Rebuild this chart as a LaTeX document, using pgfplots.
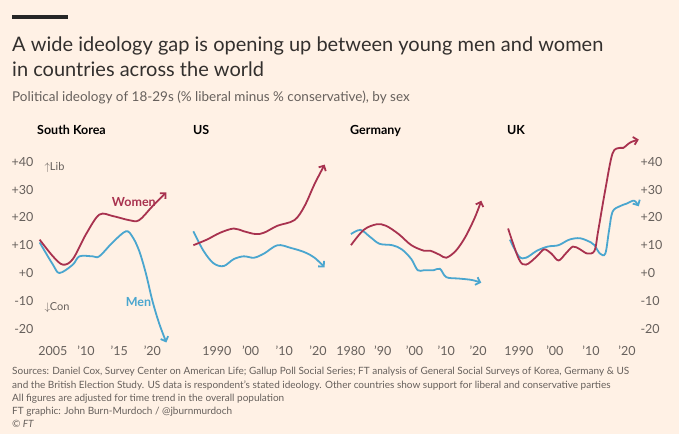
\documentclass[border=0pt]{standalone}
\usepackage{pgfplots}
\pgfplotsset{compat=1.18}
\usepgfplotslibrary{fillbetween}
\usetikzlibrary{arrows.meta}
\usepackage{fontspec}
\setmainfont{Lato}
\definecolor{bg}{HTML}{FFF1E5}
\definecolor{wom}{HTML}{A8324F}
\definecolor{men}{HTML}{4AA6CF}
\definecolor{pinkf}{HTML}{F7BBC9}
\definecolor{gridc}{HTML}{E6D9CE}
\definecolor{zeroc}{HTML}{A09890}
\definecolor{tickc}{HTML}{66605C}
\definecolor{titc}{HTML}{33302E}
\pgfplotsset{panel/.style={scale only axis, height=208.5pt, ymin=-25, ymax=50,
  axis line style={draw=none}, ytick={-20,-10,0,10,20,30,40}, yticklabels={},
  ymajorgrids, grid style={draw=gridc, line width=0.7pt},
  major y tick style={draw=none}, xtick pos=bottom, tick align=inside,
  major x tick style={draw=tickc, line width=0.8pt}, major tick length=4pt,
  ticklabel style={font=\fontsize{12.5}{12.5}\selectfont, text=tickc},
  clip=false, extra y ticks={0}, extra y tick labels={},
  extra y tick style={grid style={draw=zeroc,line width=1.3pt}, major tick style={draw=none}},
  anchor=south west},
  wl/.style={wom, line width=1.8pt, smooth, tension=0.55, -{Straight Barb[length=4pt,width=8pt]}},
  ml/.style={men, line width=1.8pt, smooth, tension=0.55, -{Straight Barb[length=4pt,width=8pt]}},
  hid/.style={draw=none, smooth, tension=0.55},
  ylabs/.style={yticklabels={-20,-10,+0,+10,+20,+30,+40}}}
\begin{document}
\begin{tikzpicture}
\fill[bg] (0,0) rectangle (679pt,434pt);
\fill[black!85] (12pt,419pt) rectangle (68pt,415pt);
\node[anchor=base west,inner sep=0,text=titc,font=\fontsize{20}{20}\selectfont] at (12pt,382pt) {A wide ideology gap is opening up between young men and women};
\node[anchor=base west,inner sep=0,text=titc,font=\fontsize{20}{20}\selectfont] at (12pt,357pt) {in countries across the world};
\node[anchor=base west,inner sep=0,text=tickc,font=\fontsize{13.5}{13.5}\selectfont] at (12pt,332pt) {Political ideology of 18-29s (\% liberal minus \% conservative), by sex};
\foreach \x/\t in {37/South Korea,193/US,350/Germany,507/UK}
  \node[anchor=base west,inner sep=0,text=black,font=\fontsize{12.5}{12.5}\selectfont\bfseries] at (\x pt,299pt) {\t};
\begin{scope}[every node/.style={anchor=base west,inner sep=0,text=tickc,font=\fontsize{10}{10}\selectfont}]
\node at (12pt,60pt) {Sources: Daniel Cox, Survey Center on American Life; Gallup Poll Social Series; FT analysis of General Social Surveys of Korea, Germany \& US};
\node at (12pt,46pt) {and the British Election Study. US data is respondent's stated ideology. Other countries show support for liberal and conservative parties};
\node at (12pt,33pt) {All figures are adjusted for time trend in the overall population};
\node at (12pt,20pt) {FT graphic: John Burn-Murdoch / @jburnmurdoch};
\node at (12pt,7pt) {\itshape © FT};
\end{scope}

% South Korea
\begin{axis}[panel, at={(37pt,91.5pt)}, width=130pt, xmin=2002.6, xmax=2022.2,
  ylabs, xtick={2005,2010,2015,2020}, xticklabels={2005,'10,'15,'20}]
\addplot[hid,name path=w] coordinates {(2003,12)(2005,6)(2006.5,3)(2008,5)(2010,14)(2012,21)(2014,20.5)(2016.5,19)(2018,19)(2020,24)(2022.1,29)};
\addplot[hid,name path=m] coordinates {(2003,11)(2005,3)(2006,0)(2008,3)(2009,6)(2011,6)(2012,6)(2014,11)(2016,15)(2017,13)(2018,8)(2019,0)(2020,-10)(2021,-18)(2022.1,-25)};
\addplot[pinkf] fill between[of=w and m];
\addplot[ml] coordinates {(2003,11)(2005,3)(2006,0)(2008,3)(2009,6)(2011,6)(2012,6)(2014,11)(2016,15)(2017,13)(2018,8)(2019,0)(2020,-10)(2021,-18)(2022.1,-25)};
\addplot[wl] coordinates {(2003,12)(2005,6)(2006.5,3)(2008,5)(2010,14)(2012,21)(2014,20.5)(2016.5,19)(2018,19)(2020,24)(2022.1,29)};
\node[text=wom,font=\fontsize{12.5}{12.5}\selectfont\bfseries] at (axis cs:2017.2,25.5) {Women};
\node[text=men,font=\fontsize{12.5}{12.5}\selectfont\bfseries] at (axis cs:2017.9,-10.5) {Men};
\node[anchor=west,text=tickc,font=\fontsize{11}{11}\selectfont] at (axis cs:2003.2,38) {$\uparrow$Lib};
\node[anchor=west,text=tickc,font=\fontsize{11}{11}\selectfont] at (axis cs:2003.2,-12.5) {$\downarrow$Con};
\end{axis}

% US
\begin{axis}[panel, at={(193pt,91.5pt)}, width=132pt, xmin=1982.9, xmax=2022.1,
  xtick={1990,2000,2010,2020}, xticklabels={1990,'00,'10,'20}]
\addplot[hid,name path=w] coordinates {(1983,10)(1987,12)(1991,14.5)(1995,16)(1998,15)(2001.5,14)(2004,14.5)(2008,17)(2013,19)(2016,24)(2019,32)(2022,39)};
\addplot[hid,name path=m] coordinates {(1983,15)(1986,8)(1989,3.5)(1992,2.5)(1995,5)(1998,6)(2001,5.5)(2004,7)(2008,10)(2012,9)(2016,7.5)(2019,5.5)(2022,2)};
\addplot[pinkf] fill between[of=w and m];
\addplot[ml] coordinates {(1983,15)(1986,8)(1989,3.5)(1992,2.5)(1995,5)(1998,6)(2001,5.5)(2004,7)(2008,10)(2012,9)(2016,7.5)(2019,5.5)(2022,2)};
\addplot[wl] coordinates {(1983,10)(1987,12)(1991,14.5)(1995,16)(1998,15)(2001.5,14)(2004,14.5)(2008,17)(2013,19)(2016,24)(2019,32)(2022,39)};
\end{axis}

% Germany
\begin{axis}[panel, at={(350pt,91.5pt)}, width=130pt, xmin=1979.7, xmax=2020.6,
  xtick={1980,1990,2000,2010,2020}, xticklabels={1980,'90,'00,'10,'20}]
\addplot[hid,name path=w] coordinates {(1980,10)(1984,15.5)(1988,17.5)(1991,17)(1995,14)(1999,10)(2003,8)(2005,8)(2008,6.5)(2010,5.5)(2013,8)(2016,13)(2019,20)(2021,26)};
\addplot[hid,name path=m] coordinates {(1980,14)(1983,15.5)(1986,13)(1989,10.5)(1993,10)(1996,8.5)(1999,5)(2001,1)(2003,1)(2006,1)(2008,1.5)(2010,-1.5)(2014,-2)(2018,-2.5)(2021,-3.5)};
\addplot[pinkf] fill between[of=w and m];
\addplot[ml] coordinates {(1980,14)(1983,15.5)(1986,13)(1989,10.5)(1993,10)(1996,8.5)(1999,5)(2001,1)(2003,1)(2006,1)(2008,1.5)(2010,-1.5)(2014,-2)(2018,-2.5)(2021,-3.5)};
\addplot[wl] coordinates {(1980,10)(1984,15.5)(1988,17.5)(1991,17)(1995,14)(1999,10)(2003,8)(2005,8)(2008,6.5)(2010,5.5)(2013,8)(2016,13)(2019,20)(2021,26)};
\end{axis}

% UK
\begin{axis}[panel, at={(507pt,91.5pt)}, width=130pt, xmin=1986.7, xmax=2022.8,
  ylabs, yticklabel pos=right,
  xtick={1990,2000,2010,2020}, xticklabels={1990,'00,'10,'20}]
\addplot[hid,name path=w] coordinates {(1987,16)(1990,5)(1992,3)(1995,6)(1997,8.5)(1999,7)(2001,4.5)(2003,7)(2005,9.5)(2007,8.5)(2009,7)(2011,8)(2012,15)(2014,30)(2016,43)(2018,45)(2019,45)(2021,47)(2023.3,48)};
\addplot[hid,name path=m] coordinates {(1987.5,12)(1990,6)(1992,5.5)(1995,8)(1998,9.5)(2001,10)(2004,12)(2007,12.5)(2010,11)(2011,10)(2012.5,7)(2014,7)(2015,15)(2016,22)(2018,24)(2020,25)(2022,26)(2023.3,24)};
\addplot[pinkf] fill between[of=w and m];
\addplot[ml] coordinates {(1987.5,12)(1990,6)(1992,5.5)(1995,8)(1998,9.5)(2001,10)(2004,12)(2007,12.5)(2010,11)(2011,10)(2012.5,7)(2014,7)(2015,15)(2016,22)(2018,24)(2020,25)(2022,26)(2023.3,24)};
\addplot[wl] coordinates {(1987,16)(1990,5)(1992,3)(1995,6)(1997,8.5)(1999,7)(2001,4.5)(2003,7)(2005,9.5)(2007,8.5)(2009,7)(2011,8)(2012,15)(2014,30)(2016,43)(2018,45)(2019,45)(2021,47)(2023.3,48)};
\end{axis}
\end{tikzpicture}
\end{document}
